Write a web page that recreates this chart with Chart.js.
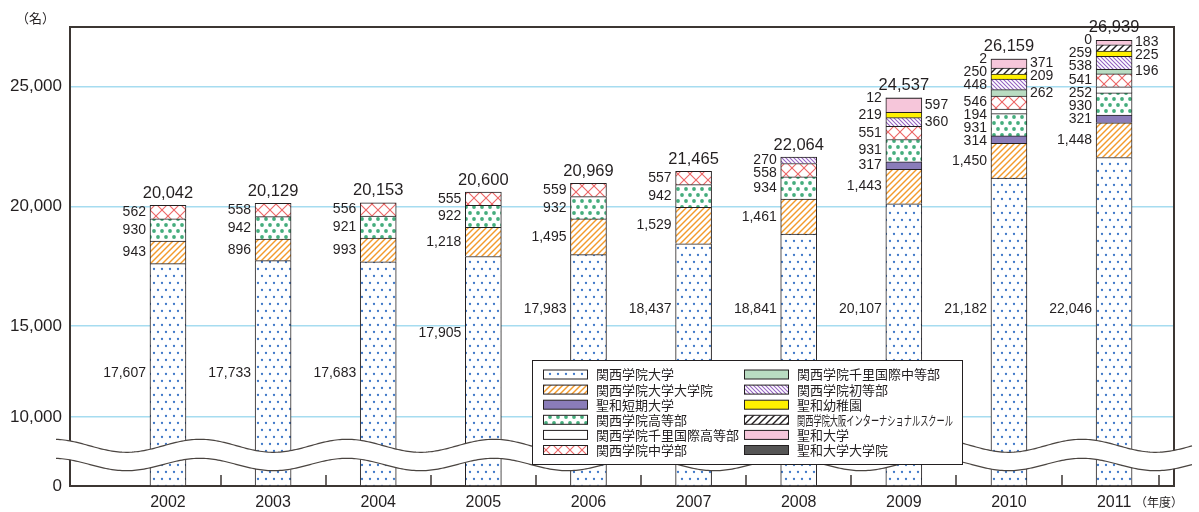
<!DOCTYPE html>
<html lang="ja">
<head>
    <meta charset="UTF-8">
    <title>学生・生徒・児童数の推移</title>
    <script src="https://cdn.jsdelivr.net/npm/chart.js"></script>
    <style>
        body {
            margin: 0;
            background-color: #fff;
        }
        #wrap {
            width: 1199px;
            height: 512px;
            position: relative;
        }
    </style>
</head>
<body>
    <div id="wrap"><canvas id="studentChart"></canvas></div>

    <script>
        // データ（年度別・人数）
        const years = ['2002', '2003', '2004', '2005', '2006', '2007', '2008', '2009', '2010', '2011'];
        const kgUniv       = [17607, 17733, 17683, 17905, 17983, 18437, 18841, 20107, 21182, 22046];
        const kgGrad       = [943, 896, 993, 1218, 1495, 1529, 1461, 1443, 1450, 1448];
        const seiwaJunior  = [null, null, null, null, null, null, null, 317, 314, 321];
        const kgHigh       = [930, 942, 921, 922, 932, 942, 934, 931, 931, 930];
        const senriHigh    = [null, null, null, null, null, null, null, null, 194, 252];
        const kgJunior     = [562, 558, 556, 555, 559, 557, 558, 551, 546, 541];
        const senriMiddle  = [null, null, null, null, null, null, null, null, 262, 196];
        const kgElementary = [null, null, null, null, null, null, 270, 360, 448, 538];
        const seiwaKinder  = [null, null, null, null, null, null, null, 219, 209, 225];
        const osakaIntl    = [null, null, null, null, null, null, null, null, 250, 259];
        const seiwaUniv    = [null, null, null, null, null, null, null, 597, 371, 183];
        const seiwaGrad    = [null, null, null, null, null, null, null, 12, 2, 0];
        const totals       = [20042, 20129, 20153, 20600, 20969, 21465, 22064, 24537, 26159, 26939];
        const yTicks       = [0, 10000, 15000, 20000, 25000];

        const fontLatin = '"Liberation Sans", Arial, sans-serif';
        const fontJa = '"Noto Sans CJK JP", sans-serif';
        const ink = '#231f20';

        // 省略軸（0〜10,000 を圧縮）
        const breakValues = [0, 10000, 15000, 27500];
        const breakFractions = [0, 0.1503, 0.3486, 1];

        class BrokenScale extends Chart.LinearScale {
            getPixelForValue(value) {
                let dec = 0;
                for (let k = 1; k < breakValues.length; k++) {
                    if (value <= breakValues[k] || k === breakValues.length - 1) {
                        const t = (value - breakValues[k - 1]) / (breakValues[k] - breakValues[k - 1]);
                        dec = breakFractions[k - 1] + t * (breakFractions[k] - breakFractions[k - 1]);
                        break;
                    }
                }
                return this.getPixelForDecimal(dec);
            }
            getValueForPixel(pixel) {
                const dec = this.getDecimalForPixel(pixel);
                for (let k = 1; k < breakFractions.length; k++) {
                    if (dec <= breakFractions[k] || k === breakFractions.length - 1) {
                        const t = (dec - breakFractions[k - 1]) / (breakFractions[k] - breakFractions[k - 1]);
                        return breakValues[k - 1] + t * (breakValues[k] - breakValues[k - 1]);
                    }
                }
                return 0;
            }
        }
        BrokenScale.id = 'broken';
        BrokenScale.defaults = Chart.LinearScale.defaults;
        Chart.register(BrokenScale);

        // 塗りパターン
        function makePattern(w, h, draw) {
            const c = document.createElement('canvas');
            c.width = w;
            c.height = h;
            const g = c.getContext('2d');
            g.fillStyle = '#fff';
            g.fillRect(0, 0, w, h);
            draw(g);
            return g.createPattern(c, 'repeat');
        }
        function dots(color, r, pts) {
            return g => {
                g.fillStyle = color;
                pts.forEach(p => { g.beginPath(); g.arc(p[0], p[1], r, 0, Math.PI * 2); g.fill(); });
            };
        }
        function lines(color, width, segs) {
            return g => {
                g.strokeStyle = color;
                g.lineWidth = width;
                segs.forEach(s => { g.beginPath(); g.moveTo(s[0], s[1]); g.lineTo(s[2], s[3]); g.stroke(); });
            };
        }
        const fwd = n => [[-1, n + 1, n + 1, -1], [-1, 1, 1, -1], [n - 1, n + 1, n + 1, n - 1]];
        const back = n => [[-1, -1, n + 1, n + 1], [-1, n - 1, 1, n + 1], [n - 1, -1, n + 1, 1]];

        const patUniv = makePattern(8, 14, dots('#3f78c8', 1.15, [[2, 3], [6, 10]]));
        const patGrad = makePattern(6, 6, lines('#f39a2a', 1.4, fwd(6)));
        const patHigh = makePattern(8, 12, dots('#45ad7d', 1.9, [[2, 3], [6, 9]]));
        const patJunior = makePattern(12, 12, lines('#ec6464', 1.1, [[0, 0, 12, 12], [12, 0, 0, 12]]));
        const patElem = makePattern(4, 4, lines('#9563c2', 1.1, back(4)));
        const patIntl = makePattern(7, 7, lines('#231f20', 1.4, fwd(7)));

        const seriesList = [
            { label: '関西学院大学', data: kgUniv, fill: patUniv },
            { label: '関西学院大学大学院', data: kgGrad, fill: patGrad },
            { label: '聖和短期大学', data: seiwaJunior, fill: '#8a7cb9' },
            { label: '関西学院高等部', data: kgHigh, fill: patHigh },
            { label: '関西学院千里国際高等部', data: senriHigh, fill: '#ffffff' },
            { label: '関西学院中学部', data: kgJunior, fill: patJunior },
            { label: '関西学院千里国際中等部', data: senriMiddle, fill: '#b9dcc2' },
            { label: '関西学院初等部', data: kgElementary, fill: patElem },
            { label: '聖和幼稚園', data: seiwaKinder, fill: '#fff100' },
            { label: '関西学院大阪インターナショナルスクール', data: osakaIntl, fill: patIntl },
            { label: '聖和大学', data: seiwaUniv, fill: '#f6c6da' },
            { label: '聖和大学大学院', data: seiwaGrad, fill: '#555555' }
        ];

        // 飾り・ラベル・凡例
        const decorPlugin = {
            id: 'decor',
            beforeDatasetsDraw(chart) {
                const { ctx, chartArea: a } = chart;
                ctx.save();
                ctx.strokeStyle = '#3c3633';
                ctx.lineWidth = 2;
                ctx.strokeRect(a.left, a.top, a.right - a.left, a.bottom - a.top);
                ctx.restore();
            },
            afterDatasetsDraw(chart) {
                const { ctx, chartArea: a, scales } = chart;
                const xs = scales.x, ys = scales.y;
                ctx.save();

                // 波線（軸の省略）
                const upper = x => 445.8 - 6.5 * Math.cos(2 * Math.PI * (x - 200) / 147);
                const lower = x => 464.5 - 6.2 * Math.cos(2 * Math.PI * (x - 200) / 147);
                const x0 = a.left - 14, x1 = a.right + 19;
                ctx.beginPath();
                for (let x = x0; x <= x1; x += 2) ctx.lineTo(x, upper(x));
                for (let x = x1; x >= x0; x -= 2) ctx.lineTo(x, lower(x));
                ctx.closePath();
                ctx.fillStyle = '#fff';
                ctx.fill();
                ctx.strokeStyle = '#4a4440';
                ctx.lineWidth = 1.2;
                [upper, lower].forEach(f => {
                    ctx.beginPath();
                    for (let x = x0; x <= x1; x += 2) ctx.lineTo(x, f(x));
                    ctx.stroke();
                });

                // 区切り目盛
                ctx.strokeStyle = '#3c3633';
                ctx.lineWidth = 1.5;
                const marks = years.map((_, j) => j + 0.5);
                marks[marks.length - 1] = years.length - 0.57;
                marks.forEach(v => {
                    const px = Math.round(xs.getPixelForValue(v));
                    ctx.beginPath();
                    ctx.moveTo(px, a.bottom);
                    ctx.lineTo(px, a.bottom - 11);
                    ctx.stroke();
                });

                // 数値ラベル
                ctx.fillStyle = ink;
                ctx.textBaseline = 'middle';
                const lineH = 13, tol = 5;
                years.forEach((_, j) => {
                    const base = chart.getDatasetMeta(0).data[j];
                    const left = base.x - base.width / 2 - 4;
                    const right = base.x + base.width / 2 + 3;
                    ctx.font = '14px ' + fontLatin;

                    // 大学（最下段）
                    const anchor = j < 3 ? 12400 : (j === 3 ? 14600 : 15700);
                    ctx.textAlign = 'right';
                    ctx.fillText(kgUniv[j].toLocaleString('en-US'), left, ys.getPixelForValue(anchor));

                    // 上段は上から左右に振り分け
                    let lastL = -Infinity, lastR = -Infinity, firstY = Infinity;
                    for (let i = seriesList.length - 1; i >= 1; i--) {
                        const v = seriesList[i].data[j];
                        if (v === null) continue;
                        const el = chart.getDatasetMeta(i).data[j];
                        const target = (el.y + el.base) / 2;
                        const pushL = Math.max(0, lastL + lineH - target);
                        const pushR = Math.max(0, lastR + lineH - target);
                        let side, y;
                        if (pushL <= tol) { side = 'L'; y = target + pushL; }
                        else if (pushR <= tol) { side = 'R'; y = target + pushR; }
                        else if (pushL <= pushR) { side = 'L'; y = target + pushL; }
                        else { side = 'R'; y = target + pushR; }
                        firstY = Math.min(firstY, y);
                        if (side === 'L') {
                            lastL = y;
                            ctx.textAlign = 'right';
                            ctx.fillText(v.toLocaleString('en-US'), left, y);
                        } else {
                            lastR = y;
                            ctx.textAlign = 'left';
                            ctx.fillText(v.toLocaleString('en-US'), right, y);
                        }
                    }

                    // 合計
                    ctx.font = '16.5px ' + fontLatin;
                    ctx.textAlign = 'center';
                    const ty = Math.min(ys.getPixelForValue(totals[j]) - 12, firstY - 13);
                    ctx.fillText(totals[j].toLocaleString('en-US'), base.x, ty);
                });

                // 単位
                ctx.font = '13px ' + fontJa;
                ctx.textAlign = 'left';
                ctx.fillText('（名）', 16, 18);
                ctx.font = '12px ' + fontJa;
                ctx.fillText('（年度）', 1135, 502);

                // 凡例
                const bx = 532, by = 360, bw = 430, bh = 104;
                ctx.fillStyle = '#fff';
                ctx.fillRect(bx, by, bw, bh);
                ctx.strokeStyle = '#231f20';
                ctx.lineWidth = 1;
                ctx.strokeRect(bx + 0.5, by + 0.5, bw, bh);
                seriesList.forEach((s, i) => {
                    const col = Math.floor(i / 6), row = i % 6;
                    const sx = col === 0 ? 543 : 744;
                    const cy = 374.5 + row * 15.1;
                    ctx.fillStyle = s.fill;
                    ctx.fillRect(sx, cy - 4.5, 44, 9);
                    ctx.strokeStyle = '#231f20';
                    ctx.strokeRect(sx + 0.5, cy - 4.5, 44, 9);
                    ctx.fillStyle = ink;
                    ctx.font = '13px ' + fontJa;
                    ctx.textAlign = 'left';
                    const label = s.label;
                    if (label.length > 14) {
                        ctx.fillText(label, sx + 53, cy, 156);
                    } else {
                        ctx.fillText(label, sx + 53, cy);
                    }
                });
                ctx.restore();
            }
        };

        const ctx = document.getElementById('studentChart').getContext('2d');
        const studentChart = new Chart(ctx, {
            type: 'bar',
            data: {
                datasets: seriesList.map(s => ({
                    label: s.label,
                    data: s.data.map((v, j) => ({ x: j, y: v })),
                    backgroundColor: s.fill,
                    borderColor: '#231f20',
                    borderWidth: 1,
                    barThickness: 36
                }))
            },
            options: {
                responsive: true,
                maintainAspectRatio: false,
                animation: false,
                layout: { padding: { top: 27, right: 25, left: 0, bottom: 0 } },
                plugins: {
                    legend: { display: false },
                    tooltip: { enabled: false }
                },
                scales: {
                    x: {
                        type: 'linear',
                        stacked: true,
                        offset: false,
                        min: -0.932,
                        max: 9.57,
                        afterBuildTicks: scale => { scale.ticks = years.map((_, j) => ({ value: j })); },
                        afterFit: scale => { scale.height = 26; },
                        grid: { display: false, drawTicks: false, offset: false },
                        border: { display: false },
                        ticks: {
                            autoSkip: false,
                            maxRotation: 0,
                            padding: 7,
                            color: ink,
                            font: { size: 16, family: fontLatin },
                            callback: v => years[v]
                        }
                    },
                    y: {
                        type: 'broken',
                        stacked: true,
                        min: 0,
                        max: 27500,
                        afterBuildTicks: scale => { scale.ticks = yTicks.map(v => ({ value: v })); },
                        afterFit: scale => { scale.width = 70; },
                        grid: {
                            drawTicks: false,
                            lineWidth: 1.5,
                            color: c => c.tick && c.tick.value === 0 ? 'rgba(0,0,0,0)' : '#a6dcf0'
                        },
                        border: { display: false },
                        ticks: {
                            autoSkip: false,
                            padding: 8,
                            color: ink,
                            font: { size: 17, family: fontLatin },
                            callback: v => v.toLocaleString('en-US')
                        }
                    }
                }
            },
            plugins: [decorPlugin]
        });
    </script>
</body>
</html>
